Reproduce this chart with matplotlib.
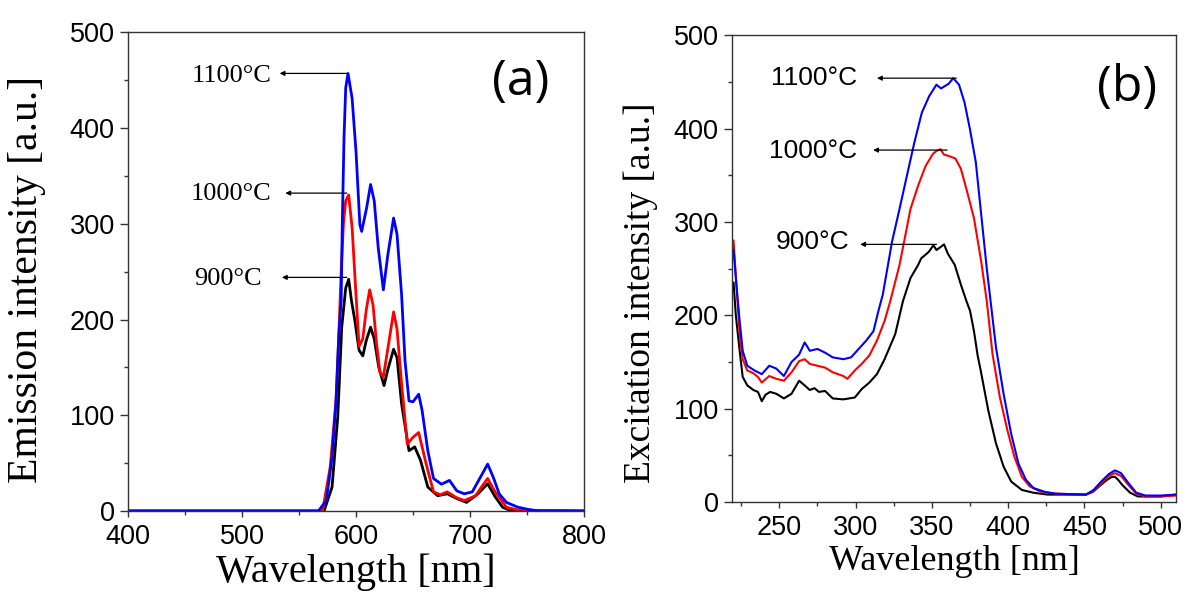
import matplotlib
matplotlib.use("Agg")
import matplotlib.pyplot as plt
from matplotlib.ticker import MultipleLocator

SERIF = "Liberation Serif"
SANS = "Liberation Sans"

# (a) emission spectra
em_900_x = [400, 565, 572, 579, 584, 587.5, 591, 593.6, 596, 599, 602.7, 606, 609, 612.8, 616, 620,
            624.6, 628, 633, 636, 640, 646.5, 651.5, 656.6, 663, 671.7, 680, 688.5, 697, 707, 715.5,
            722, 728.6, 735, 800]
em_900_y = [0, 0, 0, 25, 98, 192, 233, 242, 220, 199, 168, 162, 178, 192, 180, 150,
            131, 148, 169, 160, 112, 63, 67, 53, 25, 16, 18, 13, 9, 18, 28.5,
            15, 4, 0.7, 0]

em_1000_x = [400, 565, 570.7, 577.4, 582.5, 585, 587, 589, 591, 593.6, 596.6, 600, 602.7, 606, 609, 612,
             615, 618, 621, 624, 628, 633, 636, 640, 645, 650, 655, 661.6, 668, 674, 680, 688, 695,
             705, 710, 715.5, 722, 732, 742, 800]
em_1000_y = [0, 0, 0, 46, 115, 185, 250, 300, 324, 330, 296, 226, 172, 180, 210, 231,
             215, 175, 145, 140, 170, 208, 190, 133, 70, 77, 82, 49, 20, 17, 20, 14, 11,
             16, 25, 34, 20, 4, 1, 0]

em_1100_x = [400, 560, 567, 574, 579, 582.5, 585, 587, 588, 589.5, 591, 593, 596.6, 600, 603.4, 605,
             609.4, 612.8, 616, 619.5, 624, 628, 633, 636, 640, 643, 646.5, 650, 655, 658, 663, 668,
             675, 682, 688.5, 695, 702, 709, 715.5, 720.5, 725.6, 732, 742, 752, 760, 800]
em_1100_y = [0, 0, 0, 11, 56, 115, 185, 220, 300, 390, 442, 457, 431, 376, 299, 292,
             317, 341, 324, 275, 231, 268, 306, 289, 226, 157, 115, 114, 122, 105, 63, 34,
             28, 32, 21, 18, 20, 35, 49, 35, 18, 9, 4, 1.5, 0, 0]

# (b) excitation spectra
ex_900_x = [220, 221.5, 224, 226, 229, 233, 236, 238.5, 241, 244, 248, 253, 258, 263, 266.6, 270,
            273, 276, 280, 285, 292, 299.5, 304, 309, 314, 319, 326, 331, 336, 341, 343, 348,
            351, 353, 355.6, 358, 360.5, 365, 369, 372.7, 375, 377.6, 380, 382, 387, 392, 397,
            402, 409, 416.6, 426, 440, 451, 455.6, 460.5, 465, 468, 470, 472, 475, 480, 485,
            500, 510]
ex_900_y = [235, 200, 162, 134, 125, 120, 118, 108, 115, 118, 116, 111, 116, 130, 125, 120,
            122, 118, 119, 111, 110, 112, 121, 128, 137, 153, 180, 215, 240, 254, 261, 268,
            275, 270, 273, 276, 266, 254, 233, 215, 205, 183, 157, 141, 98, 63, 38,
            22, 13, 10, 8, 8, 8, 11, 18, 24, 27, 27, 24, 18, 10, 6,
            6, 8]

ex_1000_x = [220, 222, 224, 226, 229, 233, 236, 238.5, 243.4, 248, 253, 258, 263, 266.6, 270, 275,
             280, 285, 292, 294.6, 299.5, 304, 309, 314, 319, 322.7, 328.8, 336, 341, 345.9, 350.7,
             353, 355.6, 358, 360.5, 365.4, 369, 372.7, 377.6, 382.4, 386, 389.8, 394.6, 399.5, 404,
             409, 414, 421.5, 431, 451, 456, 461, 466, 470, 474, 479, 484, 490, 500, 510]
ex_1000_y = [280, 230, 180, 153, 141, 138, 134, 128, 135, 132, 130, 139, 151, 153, 148, 146,
             144, 139, 135, 132, 141, 148, 157, 173, 194, 215, 254, 314, 339, 360, 373,
             376, 378, 372, 371, 368, 357, 335, 304, 257, 215, 158, 112, 77, 49,
             27, 17, 11, 9, 8, 12, 20, 28, 31, 28, 18, 9, 6, 6, 7]

ex_1100_x = [220, 222, 224, 226, 229, 233.7, 238.5, 243.4, 248, 253, 258, 263, 266.6, 270, 275, 280,
             285, 292, 297, 302, 307, 311.7, 315, 317.8, 323.9, 328.8, 333.7, 338.5, 343.4, 348.3,
             353, 356, 358, 361, 364, 367.8, 371.4, 375, 378.8, 382.4, 386, 388.5, 392, 397, 402,
             406.8, 411.6, 416.6, 424, 431, 451, 456, 461, 466, 470, 474, 479, 484, 490, 500, 510]
ex_1100_y = [270, 230, 194, 162, 146, 141, 137, 146, 143, 135, 150, 158, 171, 162, 164, 160,
             155, 153, 155, 164, 173, 183, 205, 222, 279, 314, 350, 385, 417, 435,
             447, 443, 445, 448, 454, 447, 428, 399, 364, 307, 250, 215, 166, 116, 73,
             41, 24, 15, 11, 9, 8, 13, 22, 30, 34, 31, 20, 10, 7, 7, 8]

temps = ["900°C", "1000°C", "1100°C"]
colors = ["black", "red", "blue"]

# label text (right edge x, baseline y), arrow head x, arrow tail x, arrow y
em_labels = [(517, 236, 535, 592, 244), (526, 325, 538, 592, 332), (526, 448, 533, 592, 457)]
ex_labels = [(296, 271, 303, 353, 276), (301, 369, 311.5, 360, 377), (301, 447, 314, 366, 454)]


def style_axis(ax, xlim, xmajor, xminor):
    ax.set_xlim(*xlim)
    ax.set_ylim(0, 500)
    ax.xaxis.set_major_locator(MultipleLocator(xmajor))
    ax.xaxis.set_minor_locator(MultipleLocator(xminor))
    ax.yaxis.set_major_locator(MultipleLocator(100))
    ax.yaxis.set_minor_locator(MultipleLocator(50))
    ax.tick_params(axis="x", which="major", direction="out", length=4.5, width=1.0, pad=5,
                   labelsize=19.5, color="#333333")
    ax.tick_params(axis="y", which="major", direction="out", length=5.5, width=1.0, pad=4,
                   labelsize=19.5, color="#333333")
    ax.tick_params(which="minor", direction="out", length=3, width=1.0, color="#333333")
    for lab in ax.get_xticklabels() + ax.get_yticklabels():
        lab.set_fontfamily(SANS)
    for sp in ax.spines.values():
        sp.set_color("#333333")
        sp.set_linewidth(1.0)


def add_labels(ax, specs, family, size):
    for temp, (tx, ty, hx, tlx, ay) in zip(temps, specs):
        ax.text(tx, ty, temp, ha="right", va="baseline", fontsize=size, family=family)
        ax.annotate("", xy=(hx, ay), xytext=(tlx, ay),
                    arrowprops=dict(arrowstyle="-|>", color="black", lw=0.9,
                                    mutation_scale=7, shrinkA=0, shrinkB=0))


fig = plt.figure(figsize=(11.87, 5.97), dpi=100)
ax1 = fig.add_axes([0.1078, 0.144, 0.3842, 0.802])
ax2 = fig.add_axes([0.6167, 0.159, 0.374, 0.782])

for xs, ys, c in zip([em_900_x, em_1000_x, em_1100_x], [em_900_y, em_1000_y, em_1100_y], colors):
    ax1.plot(xs, ys, color=c, lw=2.0)
for xs, ys, c in zip([ex_900_x, ex_1000_x, ex_1100_x], [ex_900_y, ex_1000_y, ex_1100_y], colors):
    ax2.plot(xs, ys, color=c, lw=1.5)

style_axis(ax1, (400, 800), 100, 50)
style_axis(ax2, (219, 510), 50, 25)

ax1.set_xlabel("Wavelength [nm]", family=SERIF, fontsize=29, labelpad=2)
ax1.set_ylabel("Emission intensity [a.u.]", family=SERIF, fontsize=30)
ax1.yaxis.set_label_coords(-0.18, 0.483)
ax2.set_xlabel("Wavelength [nm]", family=SERIF, fontsize=26, labelpad=3)
ax2.set_ylabel("Excitation intensity [a.u.]", family=SERIF, fontsize=27)
ax2.yaxis.set_label_coords(-0.167, 0.449)

ax1.text(0.862, 0.896, "(a)", transform=ax1.transAxes, ha="center", va="center",
         fontsize=36, family="Open Sans")
ax2.text(0.89, 0.887, "(b)", transform=ax2.transAxes, ha="center", va="center",
         fontsize=36, family="Open Sans")

add_labels(ax1, em_labels, SERIF, 19)
add_labels(ax2, ex_labels, SANS, 19)

fig.savefig("out.png", dpi=100)
